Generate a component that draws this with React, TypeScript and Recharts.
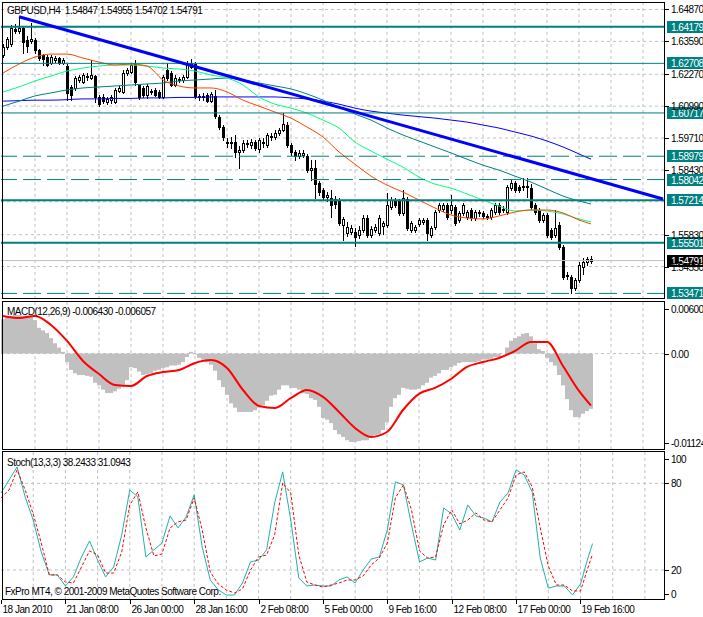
import React from "react";
import { ComposedChart, Bar, Line, XAxis, YAxis, CartesianGrid, ReferenceLine } from "recharts";

const FONT = "'Liberation Sans', Arial, sans-serif";
const FS = 10;
const LS = -0.5;
const GRID = "#C0C0C0";
const TEAL = "#008080";

// GBPUSD H4 candles, bar 0 = 18 Jan 2010
const OPEN = [
  1.6304, 1.6336, 1.6348, 1.6409, 1.6400, 1.6413, 1.6364, 1.6360, 1.6364, 1.6324,
  1.6304, 1.6296, 1.6272, 1.6284, 1.6292, 1.6272, 1.6260, 1.6176, 1.6172, 1.6204,
  1.6196, 1.6216, 1.6212, 1.6220, 1.6136, 1.6136, 1.6115, 1.6123, 1.6115, 1.6160,
  1.6156, 1.6232, 1.6236, 1.6268, 1.6184, 1.6172, 1.6144, 1.6156, 1.6164, 1.6156,
  1.6136, 1.6244, 1.6232, 1.6184, 1.6208, 1.6204, 1.6216, 1.6256, 1.6268, 1.6140,
  1.6136, 1.6144, 1.6119, 1.6140, 1.6055, 1.6015, 1.5955, 1.5951, 1.5955, 1.5915,
  1.5923, 1.5947, 1.5943, 1.5955, 1.5927, 1.5955, 1.5943, 1.5975, 1.5975, 1.5991,
  1.6003, 1.6023, 1.5943, 1.5915, 1.5898, 1.5903, 1.5898, 1.5842, 1.5850, 1.5790,
  1.5762, 1.5734, 1.5730, 1.5726, 1.5722, 1.5622, 1.5589, 1.5593, 1.5593, 1.5581,
  1.5601, 1.5650, 1.5581, 1.5601, 1.5589, 1.5618, 1.5622, 1.5694, 1.5722, 1.5718,
  1.5670, 1.5726, 1.5601, 1.5601, 1.5626, 1.5634, 1.5642, 1.5581, 1.5614, 1.5682,
  1.5686, 1.5702, 1.5682, 1.5694, 1.5642, 1.5670, 1.5654, 1.5682, 1.5650, 1.5670,
  1.5670, 1.5654, 1.5654, 1.5674, 1.5702, 1.5682, 1.5674, 1.5770, 1.5790, 1.5774,
  1.5774, 1.5774, 1.5770, 1.5702, 1.5682, 1.5642, 1.5662, 1.5601, 1.5581, 1.5622,
  1.5533, 1.5417, 1.5413, 1.5369, 1.5401, 1.5453, 1.5473, 1.54847,
];
const HIGH = [
  1.6348, 1.6376, 1.6425, 1.6429, 1.6457, 1.6421, 1.6380, 1.6433, 1.6372, 1.6328,
  1.6308, 1.6304, 1.6304, 1.6300, 1.6296, 1.6292, 1.6268, 1.6184, 1.6220, 1.6224,
  1.6232, 1.6232, 1.6284, 1.6224, 1.6144, 1.6148, 1.6136, 1.6144, 1.6172, 1.6180,
  1.6244, 1.6252, 1.6272, 1.6284, 1.6188, 1.6180, 1.6188, 1.6168, 1.6172, 1.6164,
  1.6224, 1.6272, 1.6240, 1.6224, 1.6216, 1.6224, 1.6280, 1.6288, 1.6276, 1.6148,
  1.6152, 1.6152, 1.6156, 1.6164, 1.6063, 1.6023, 1.5971, 1.5975, 1.5983, 1.5939,
  1.5963, 1.5963, 1.5967, 1.5963, 1.5971, 1.5971, 1.5991, 1.5991, 1.6003, 1.6011,
  1.6071, 1.6035, 1.5951, 1.5923, 1.5923, 1.5923, 1.5907, 1.5882, 1.5882, 1.5798,
  1.5770, 1.5754, 1.5762, 1.5738, 1.5730, 1.5654, 1.5634, 1.5622, 1.5610, 1.5618,
  1.5662, 1.5662, 1.5618, 1.5626, 1.5662, 1.5638, 1.5750, 1.5734, 1.5730, 1.5726,
  1.5762, 1.5734, 1.5638, 1.5622, 1.5650, 1.5650, 1.5650, 1.5618, 1.5682, 1.5710,
  1.5710, 1.5710, 1.5742, 1.5702, 1.5678, 1.5710, 1.5682, 1.5690, 1.5682, 1.5682,
  1.5678, 1.5666, 1.5690, 1.5710, 1.5710, 1.5698, 1.5782, 1.5802, 1.5798, 1.5782,
  1.5810, 1.5810, 1.5786, 1.5710, 1.5690, 1.5670, 1.5670, 1.5610, 1.5682, 1.5634,
  1.5541, 1.5433, 1.5421, 1.5409, 1.5473, 1.5489, 1.5493, 1.54955,
];
const LOW = [
  1.6296, 1.6328, 1.6340, 1.6392, 1.6392, 1.6312, 1.6316, 1.6352, 1.6312, 1.6284,
  1.6264, 1.6260, 1.6268, 1.6276, 1.6268, 1.6268, 1.6123, 1.6123, 1.6164, 1.6196,
  1.6192, 1.6204, 1.6208, 1.6115, 1.6099, 1.6111, 1.6107, 1.6111, 1.6111, 1.6156,
  1.6152, 1.6224, 1.6232, 1.6184, 1.6128, 1.6136, 1.6132, 1.6148, 1.6140, 1.6132,
  1.6132, 1.6204, 1.6180, 1.6180, 1.6196, 1.6196, 1.6212, 1.6252, 1.6132, 1.6123,
  1.6123, 1.6115, 1.6115, 1.6051, 1.6007, 1.5963, 1.5935, 1.5931, 1.5894, 1.5850,
  1.5915, 1.5935, 1.5931, 1.5923, 1.5915, 1.5935, 1.5935, 1.5963, 1.5967, 1.5983,
  1.5999, 1.5935, 1.5903, 1.5882, 1.5890, 1.5894, 1.5834, 1.5802, 1.5730, 1.5742,
  1.5722, 1.5718, 1.5654, 1.5690, 1.5622, 1.5561, 1.5577, 1.5585, 1.5537, 1.5569,
  1.5593, 1.5573, 1.5573, 1.5593, 1.5581, 1.5585, 1.5614, 1.5686, 1.5694, 1.5662,
  1.5662, 1.5601, 1.5593, 1.5593, 1.5618, 1.5626, 1.5561, 1.5573, 1.5606, 1.5674,
  1.5678, 1.5646, 1.5670, 1.5622, 1.5634, 1.5662, 1.5646, 1.5642, 1.5642, 1.5658,
  1.5650, 1.5646, 1.5646, 1.5666, 1.5666, 1.5674, 1.5666, 1.5762, 1.5754, 1.5754,
  1.5762, 1.5734, 1.5686, 1.5666, 1.5634, 1.5634, 1.5573, 1.5565, 1.5573, 1.5525,
  1.5405, 1.5405, 1.5348, 1.5361, 1.5393, 1.5425, 1.5461, 1.54702,
];
const CLOSE = [
  1.6336, 1.6368, 1.6413, 1.6400, 1.6413, 1.6356, 1.6340, 1.6368, 1.6324, 1.6292,
  1.6288, 1.6264, 1.6296, 1.6292, 1.6272, 1.6284, 1.6152, 1.6144, 1.6212, 1.6216,
  1.6224, 1.6220, 1.6224, 1.6136, 1.6107, 1.6119, 1.6128, 1.6136, 1.6164, 1.6172,
  1.6232, 1.6244, 1.6264, 1.6196, 1.6136, 1.6144, 1.6180, 1.6160, 1.6144, 1.6136,
  1.6216, 1.6212, 1.6184, 1.6212, 1.6204, 1.6216, 1.6264, 1.6272, 1.6140, 1.6136,
  1.6140, 1.6119, 1.6148, 1.6059, 1.6015, 1.5975, 1.5951, 1.5955, 1.5915, 1.5923,
  1.5951, 1.5951, 1.5955, 1.5931, 1.5963, 1.5951, 1.5983, 1.5979, 1.5991, 1.6003,
  1.6027, 1.5943, 1.5915, 1.5898, 1.5911, 1.5911, 1.5842, 1.5850, 1.5786, 1.5754,
  1.5734, 1.5742, 1.5702, 1.5706, 1.5630, 1.5646, 1.5614, 1.5610, 1.5573, 1.5601,
  1.5650, 1.5581, 1.5606, 1.5614, 1.5650, 1.5630, 1.5702, 1.5722, 1.5702, 1.5670,
  1.5730, 1.5610, 1.5630, 1.5614, 1.5642, 1.5642, 1.5589, 1.5610, 1.5674, 1.5702,
  1.5702, 1.5654, 1.5702, 1.5630, 1.5670, 1.5702, 1.5674, 1.5650, 1.5674, 1.5674,
  1.5658, 1.5658, 1.5682, 1.5702, 1.5674, 1.5686, 1.5774, 1.5790, 1.5762, 1.5762,
  1.5778, 1.5778, 1.5694, 1.5674, 1.5642, 1.5662, 1.5581, 1.5573, 1.5610, 1.5533,
  1.5413, 1.5421, 1.5369, 1.5401, 1.5461, 1.5473, 1.5485, 1.54791,
];

// moving averages, read every 4th bar (+ last bar)
const MA_IDX = [...Array.from({ length: 37 }, (_, k) => k * 4), 147];
const MA_FAST = [
  1.6232, 1.6268, 1.6296, 1.6308, 1.6308, 1.6292, 1.6276, 1.6264, 1.6268, 1.6260,
  1.6204, 1.6180, 1.6172, 1.6172, 1.6156, 1.6123, 1.6099, 1.6075, 1.6051, 1.6015,
  1.5975, 1.5915, 1.5866, 1.5818, 1.5782, 1.5754, 1.5722, 1.5690, 1.5662, 1.5650,
  1.5646, 1.5658, 1.5674, 1.5682, 1.5682, 1.5670, 1.5642, 1.5626,
];
const MA_MID = [
  1.6156, 1.6176, 1.6200, 1.6220, 1.6240, 1.6252, 1.6260, 1.6264, 1.6264, 1.6260,
  1.6252, 1.6248, 1.6240, 1.6224, 1.6212, 1.6184, 1.6136, 1.6107, 1.6091, 1.6071,
  1.6043, 1.6011, 1.5955, 1.5919, 1.5886, 1.5854, 1.5814, 1.5786, 1.5770, 1.5746,
  1.5722, 1.5698, 1.5678, 1.5682, 1.5678, 1.5666, 1.5646, 1.5634,
];
const MA_SLOW = [
  1.6099, 1.6119, 1.6140, 1.6152, 1.6164, 1.6172, 1.6176, 1.6180, 1.6184, 1.6188,
  1.6192, 1.6200, 1.6204, 1.6208, 1.6212, 1.6204, 1.6192, 1.6180, 1.6168, 1.6148,
  1.6123, 1.6095, 1.6067, 1.6043, 1.6011, 1.5983, 1.5959, 1.5935, 1.5911, 1.5886,
  1.5862, 1.5842, 1.5818, 1.5794, 1.5766, 1.5738, 1.5718, 1.5706,
];
const MA_LONG = [
  1.6119, 1.6121, 1.6123, 1.6123, 1.6125, 1.6128, 1.6128, 1.6130, 1.6130, 1.6132,
  1.6132, 1.6134, 1.6134, 1.6136, 1.6136, 1.6136, 1.6136, 1.6136, 1.6132, 1.6128,
  1.6119, 1.6107, 1.6091, 1.6079, 1.6071, 1.6063, 1.6057, 1.6051, 1.6043, 1.6035,
  1.6023, 1.6011, 1.5995, 1.5979, 1.5959, 1.5935, 1.5907, 1.5886,
];

const MACD_HIST = [
  0.0040, 0.0042, 0.0044, 0.0045, 0.0045, 0.0044, 0.0044, 0.0043, 0.0039, 0.0030,
  0.0027, 0.0024, 0.0018, 0.0012, 0.0007, 0.0002, -0.0010, -0.0019, -0.0023, -0.0025,
  -0.0025, -0.0026, -0.0027, -0.0034, -0.0037, -0.0042, -0.0046, -0.0046, -0.0044, -0.0041,
  -0.0038, -0.0031, -0.0016, -0.0017, -0.0021, -0.0025, -0.0024, -0.0023, -0.0020, -0.0019,
  -0.0017, -0.0016, -0.0014, -0.0014, -0.0013, -0.0010, -0.0004, 0.0002, -0.0001, -0.0005,
  -0.0007, -0.0010, -0.0013, -0.0020, -0.0031, -0.0039, -0.0048, -0.0058, -0.0063, -0.0068,
  -0.0068, -0.0068, -0.0068, -0.0066, -0.0063, -0.0060, -0.0055, -0.0049, -0.0048, -0.0042,
  -0.0037, -0.0037, -0.0040, -0.0040, -0.0042, -0.0046, -0.0047, -0.0052, -0.0054, -0.0062,
  -0.0075, -0.0077, -0.0081, -0.0089, -0.0094, -0.0097, -0.0101, -0.0103, -0.0103, -0.0102,
  -0.0101, -0.0101, -0.0096, -0.0095, -0.0094, -0.0089, -0.0080, -0.0062, -0.0052, -0.0048,
  -0.0040, -0.0041, -0.0042, -0.0042, -0.0041, -0.0037, -0.0034, -0.0028, -0.0026, -0.0023,
  -0.0019, -0.0019, -0.0016, -0.0014, -0.0011, -0.0010, -0.0010, -0.0010, -0.0010, -0.0009,
  -0.0007, -0.0007, -0.0006, -0.0004, -0.0004, 0.0000, 0.0007, 0.0015, 0.0018, 0.0020,
  0.0023, 0.0024, 0.0020, 0.0012, 0.0005, 0.0003, -0.0005, -0.0010, -0.0014, -0.0025,
  -0.0037, -0.0053, -0.0066, -0.0074, -0.0074, -0.0070, -0.0067, -0.00643,
];
const MACD_SIGNAL = [
  0.00438, 0.00414, 0.00438, 0.00333, 0.00147, -0.00086, -0.00238, -0.00366, -0.00377, -0.00261,
  -0.00214, -0.00191, -0.00109, -0.00075, -0.00168, -0.00424, -0.00610, -0.00633, -0.00517, -0.00424,
  -0.00505, -0.00680, -0.00866, -0.00971, -0.00913, -0.00657, -0.00470, -0.00400, -0.00296, -0.00156,
  -0.00098, -0.00051, 0.00030, 0.00135, 0.00135, -0.00144, -0.00435, -0.006057,
];

// stochastic, read every 2nd bar (+ last bar)
const STOCH_IDX = [...Array.from({ length: 74 }, (_, j) => j * 2), 147];
const STOCH_K = [
  73.3, 82.3, 91.3, 70.6, 54.6, 32.5, 16.6, 16.6, 8.9, 15.2,
  29.0, 40.1, 26.9, 15.2, 22.1, 44.3, 75.4, 70.6, 29.0, 33.9,
  38.7, 57.4, 49.1, 56.7, 72.0, 35.9, 13.1, 6.2, 2.7, 2.7,
  11.0, 25.6, 26.9, 33.9, 66.4, 87.9, 54.6, 14.5, 8.9, 9.6,
  8.9, 8.9, 13.1, 15.2, 11.0, 20.0, 27.6, 29.0, 47.7, 81.0,
  78.9, 51.2, 25.6, 28.3, 26.9, 62.9, 58.8, 47.7, 65.0, 57.4,
  56.0, 53.3, 67.1, 73.3, 89.3, 85.8, 74.0, 28.3, 7.5, 8.9,
  8.9, 2.7, 10.3, 29.7, 38.2433,
];
const STOCH_D = [
  69.9, 75.4, 89.3, 75.4, 58.8, 38.7, 16.6, 16.6, 11.7, 11.0,
  22.1, 33.2, 30.4, 17.9, 17.9, 32.5, 65.0, 74.0, 49.1, 29.7,
  31.1, 49.1, 53.3, 54.6, 69.9, 47.7, 18.6, 10.3, 6.2, 4.1,
  6.9, 20.0, 29.0, 30.4, 44.3, 80.3, 73.3, 30.4, 11.7, 9.6,
  8.2, 9.6, 11.0, 13.1, 13.1, 15.9, 23.5, 28.3, 38.7, 69.9,
  78.9, 61.6, 33.2, 28.3, 29.0, 51.2, 61.6, 51.9, 54.6, 59.5,
  54.6, 53.3, 61.6, 69.9, 85.8, 87.9, 77.5, 49.1, 22.8, 9.6,
  9.6, 5.5, 5.5, 22.8, 31.0943,
];

const LEVELS = [1.64179, 1.62708, 1.60717, 1.58979, 1.58042, 1.57214, 1.55501, 1.53471];
const TREND = [{ x: 4, y: 1.6458 }, { x: 165, y: 1.5726 }];

const PRICE_TICKS = [1.6487, 1.6359, 1.6227, 1.6099, 1.5971, 1.5843, 1.5715, 1.5583, 1.5455, 1.5327];
const PRICE_HIDDEN = [1.5715, 1.5327];
const MACD_TICKS = [0.006005, 0, -0.01124];
const MACD_TICK_TEXT = ["0.006005", "0.00", "-0.01124"];
const STOCH_TICKS = [100, 80, 20, 0];
const TIME_TICKS = [0, 16, 32, 48, 64, 80, 96, 112, 128, 144];
const TIME_LABELS = [
  "18 Jan 2010", "21 Jan 08:00", "26 Jan 00:00", "28 Jan 16:00", "2 Feb 08:00",
  "5 Feb 00:00", "9 Feb 16:00", "12 Feb 08:00", "17 Feb 00:00", "19 Feb 16:00",
];
const GRID_X = Array.from({ length: 20 }, (_, k) => (k + 1) * 8);

const SLOTS = 166; // 148 bars plus the empty space on the right

const rows: any[] = Array.from({ length: SLOTS }, (_, i) => ({ i }));
OPEN.forEach((o, i) =>
  Object.assign(rows[i], { o, h: HIGH[i], l: LOW[i], c: CLOSE[i], hl: [LOW[i], HIGH[i]], hist: MACD_HIST[i] })
);
MA_IDX.forEach((bar, k) =>
  Object.assign(rows[bar], { ma1: MA_FAST[k], ma2: MA_MID[k], ma3: MA_SLOW[k], ma4: MA_LONG[k], sig: MACD_SIGNAL[k] })
);
STOCH_IDX.forEach((bar, k) => Object.assign(rows[bar], { k: STOCH_K[k], d: STOCH_D[k] }));

const LAST = OPEN.length - 1;

function Candle(props: any) {
  const { x, y, width, height, payload } = props;
  if (!payload || payload.o == null || !isFinite(y) || !isFinite(height)) return null;
  const { o, h, l, c } = payload;
  const top = Math.min(y, y + height);
  const span = Math.abs(height);
  const py = (v: number) => (h === l ? top : top + ((h - v) / (h - l)) * span);
  const left = Math.round(x + width / 2 - 1.5);
  const yh = Math.round(py(h));
  const yl = Math.round(py(l));
  const yo = Math.round(py(o));
  const yc = Math.round(py(c));
  const bt = Math.min(yo, yc);
  const bb = Math.max(yo, yc);
  let body;
  if (bb - bt < 1) body = <rect x={left} y={bt} width={3} height={1} fill="#000" />;
  else if (c > o)
    body = <rect x={left + 0.5} y={bt + 0.5} width={2} height={bb - bt} fill="#fff" stroke="#000" strokeWidth={1} />;
  else body = <rect x={left} y={bt} width={3} height={bb - bt + 1} fill="#000" />;
  return (
    <g>
      <rect x={left + 1} y={yh} width={1} height={Math.max(yl - yh + 1, 1)} fill="#000" />
      {body}
    </g>
  );
}

const axisText = { fontSize: FS, fontFamily: FONT, fill: "#000", letterSpacing: LS };

function PriceTick(p: any) {
  const v = p.payload?.value;
  if (v == null || PRICE_HIDDEN.includes(v)) return null;
  const y = Math.round(p.y) + 0.5;
  return (
    <g>
      <line x1={p.x - 2} x2={p.x + 2} y1={y} y2={y} stroke="#000" />
      <text x={p.x + 4} y={y + 3.5} {...axisText}>{v.toFixed(5)}</text>
    </g>
  );
}

function MacdTick(p: any) {
  const idx = MACD_TICKS.indexOf(p.payload?.value);
  if (idx < 0) return null;
  const shift = idx === 0 ? 7 : idx === 2 ? -7 : 0;
  const y = Math.round(p.y + shift) + 0.5;
  return (
    <g>
      <line x1={p.x - 2} x2={p.x + 2} y1={y} y2={y} stroke="#000" />
      <text x={p.x + 4} y={y + 3.5} {...axisText}>{MACD_TICK_TEXT[idx]}</text>
    </g>
  );
}

function StochTick(p: any) {
  const v = p.payload?.value;
  const shift = v === 100 ? 5 : v === 0 ? -5 : 0;
  const y = Math.round(p.y + shift) + 0.5;
  return (
    <g>
      <line x1={p.x - 2} x2={p.x + 2} y1={y} y2={y} stroke="#000" />
      <text x={p.x + 4} y={y + 3.5} {...axisText}>{String(v)}</text>
    </g>
  );
}

function TimeTick(p: any) {
  const idx = TIME_TICKS.indexOf(p.payload?.value);
  if (idx < 0) return null;
  const x = Math.round(p.x) + 0.5;
  return (
    <g>
      <line x1={x} x2={x} y1={p.y} y2={p.y + 4} stroke="#000" />
      <text x={x + 1} y={p.y + 13} {...axisText}>{TIME_LABELS[idx]}</text>
    </g>
  );
}

const tag = (text: string, bg: string) => (p: any) => {
  const vb = p.viewBox || {};
  const x = vb.x + vb.width + 2;
  const y = Math.round(vb.y);
  return (
    <g>
      <rect x={x} y={y - 6} width={40} height={12} fill={bg} />
      <text x={x + 4} y={y + 4} fontSize={FS} fontFamily={FONT} letterSpacing={LS} fill="#fff">{text}</text>
    </g>
  );
};

function levelStyle(k: number) {
  if (k === 0 || k === 5 || k === 6) return { strokeWidth: 2 };
  if (k === 3 || k === 4 || k === 7) return { strokeWidth: 1, strokeDasharray: "18 6" };
  return { strokeWidth: 1 };
}

function MainChart() {
  return (
    <ComposedChart width={703} height={300} data={rows} margin={{ top: 2, right: 0, bottom: 1.6, left: 1 }} barCategoryGap={0} barGap={0}>
      <XAxis dataKey="i" type="category" hide />
      <XAxis xAxisId="g" dataKey="i" type="category" hide ticks={GRID_X} interval={0} />
      <YAxis
        orientation="right"
        width={38}
        type="number"
        domain={[1.53271, 1.65171]}
        allowDataOverflow
        ticks={PRICE_TICKS}
        interval={0}
        tickSize={0}
        tickMargin={2}
        tickLine={false}
        axisLine={false}
        tick={(p: any) => <PriceTick {...p} />}
      />
      <CartesianGrid xAxisId="g" stroke={GRID} strokeDasharray="3 3" syncWithTicks />
      <Line dataKey="ma4" stroke="#0000FF" strokeWidth={1} dot={false} connectNulls type="monotone" isAnimationActive={false} />
      <Line dataKey="ma3" stroke={TEAL} strokeWidth={1} dot={false} connectNulls type="monotone" isAnimationActive={false} />
      <Line dataKey="ma2" stroke="#00FF7F" strokeWidth={1} dot={false} connectNulls type="monotone" isAnimationActive={false} />
      <Line dataKey="ma1" stroke="#FF4500" strokeWidth={1} dot={false} connectNulls type="monotone" isAnimationActive={false} />
      <ReferenceLine y={CLOSE[LAST]} stroke={GRID} strokeWidth={1} label={tag(CLOSE[LAST].toFixed(5), "#000")} />
      {LEVELS.map((v, k) => (
        <ReferenceLine key={v} y={v} stroke={TEAL} {...levelStyle(k)} label={tag(v.toFixed(5), TEAL)} />
      ))}
      <Bar dataKey="hl" isAnimationActive={false} shape={(p: any) => <Candle {...p} />} />
      <ReferenceLine segment={TREND} stroke="#0000FF" strokeWidth={3} />
    </ComposedChart>
  );
}

function MacdChart() {
  return (
    <ComposedChart width={703} height={152} data={rows} margin={{ top: 2, right: 0, bottom: 1.9, left: 1 }} barCategoryGap={0} barGap={0}>
      <XAxis dataKey="i" type="category" hide />
      <XAxis xAxisId="g" dataKey="i" type="category" hide ticks={GRID_X} interval={0} />
      <YAxis
        orientation="right"
        width={38}
        type="number"
        domain={[-0.01124, 0.006005]}
        allowDataOverflow
        ticks={MACD_TICKS}
        interval={0}
        tickSize={0}
        tickMargin={2}
        tickLine={false}
        axisLine={false}
        tick={(p: any) => <MacdTick {...p} />}
      />
      <YAxis yAxisId="g" hide type="number" domain={[-0.01124, 0.006005]} allowDataOverflow ticks={[0]} />
      <CartesianGrid xAxisId="g" yAxisId="g" stroke={GRID} strokeDasharray="3 3" syncWithTicks />
      <Bar dataKey="hist" fill="#C0C0C0" isAnimationActive={false} />
      <Line dataKey="sig" stroke="#FF0000" strokeWidth={2} dot={false} connectNulls type="monotone" isAnimationActive={false} />
    </ComposedChart>
  );
}

function StochChart() {
  return (
    <ComposedChart width={703} height={167} data={rows} margin={{ top: 2, right: 0, bottom: 0, left: 1 }}>
      <XAxis
        dataKey="i"
        type="category"
        height={17}
        ticks={TIME_TICKS}
        interval={0}
        tickSize={0}
        tickMargin={0}
        tickLine={false}
        axisLine={false}
        tick={(p: any) => <TimeTick {...p} />}
      />
      <XAxis xAxisId="g" dataKey="i" type="category" hide ticks={GRID_X} interval={0} />
      <YAxis
        orientation="right"
        width={38}
        type="number"
        domain={[-0.76, 101.66]}
        allowDataOverflow
        ticks={STOCH_TICKS}
        interval={0}
        tickSize={0}
        tickMargin={2}
        tickLine={false}
        axisLine={false}
        tick={(p: any) => <StochTick {...p} />}
      />
      <YAxis yAxisId="g" hide type="number" domain={[-0.76, 101.66]} allowDataOverflow ticks={[80, 20]} />
      <CartesianGrid xAxisId="g" yAxisId="g" stroke={GRID} strokeDasharray="3 3" syncWithTicks />
      <Line dataKey="k" stroke="#20B2AA" strokeWidth={1} dot={false} connectNulls type="linear" isAnimationActive={false} />
      <Line dataKey="d" stroke="#FF0000" strokeWidth={1} strokeDasharray="3 2" dot={false} connectNulls type="linear" isAnimationActive={false} />
    </ComposedChart>
  );
}

export default function App() {
  const t = { fontSize: FS, fontFamily: FONT, fill: "#000", letterSpacing: LS, style: { whiteSpace: "pre" as const } };
  return (
    <div style={{ position: "fixed", left: 0, top: 0, width: 703, height: 617, background: "#fff", overflow: "hidden" }}>
      <div style={{ position: "absolute", left: 0, top: 0 }}>
        <MainChart />
      </div>
      <div style={{ position: "absolute", left: 0, top: 300 }}>
        <MacdChart />
      </div>
      <div style={{ position: "absolute", left: 0, top: 450 }}>
        <StochChart />
      </div>
      <svg width={703} height={617} style={{ position: "absolute", left: 0, top: 0, pointerEvents: "none" }}>
        <rect x={2.5} y={2.5} width={662} height={296} fill="none" stroke="#000" />
        <rect x={2.5} y={301.5} width={662} height={148} fill="none" stroke="#000" />
        <rect x={2.5} y={451.5} width={662} height={148} fill="none" stroke="#000" />
        <text x={7} y={14} {...t}>
          {`GBPUSD,H4  ${OPEN[LAST].toFixed(5)} ${HIGH[LAST].toFixed(5)} ${LOW[LAST].toFixed(5)} ${CLOSE[LAST].toFixed(5)}`}
        </text>
        <text x={7} y={315} {...t}>
          {`MACD(12,26,9) ${MACD_HIST[LAST].toFixed(6)} ${MACD_SIGNAL[MACD_SIGNAL.length - 1].toFixed(6)}`}
        </text>
        <text x={7} y={466} {...t}>
          {`Stoch(13,3,3) ${STOCH_K[STOCH_K.length - 1].toFixed(4)} ${STOCH_D[STOCH_D.length - 1].toFixed(4)}`}
        </text>
        <text x={5} y={595} {...t}>FxPro MT4, © 2001-2009 MetaQuotes Software Corp.</text>
      </svg>
    </div>
  );
}
